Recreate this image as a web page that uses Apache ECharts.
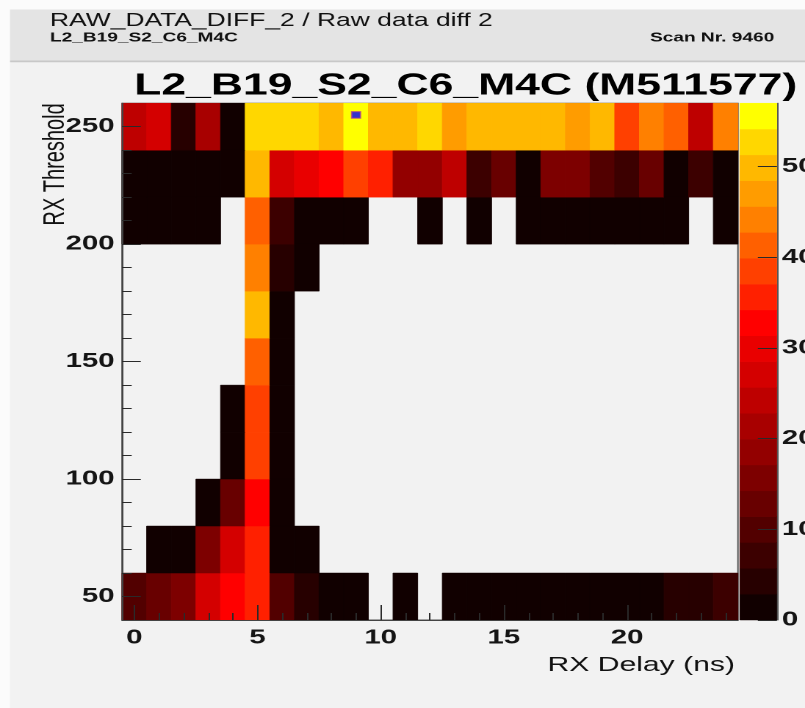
<!DOCTYPE html>
<html>
<head>
<meta charset="utf-8">
<script src="https://cdn.jsdelivr.net/npm/echarts@6.0.0/dist/echarts.min.js"></script>
<style>
  html, body { margin: 0; padding: 0; background: #FBFBFB; overflow: hidden; }
  /* the canvas is laid out narrow and widened horizontally, giving the wide lettering of the scan viewer */
  #chart { width: 548px; height: 708px; transform: scaleX(1.46898); transform-origin: 0 0; }
</style>
</head>
<body>
<div id="chart"></div>
<script>
// RX delay bins (ns), bin centres
const delays = [0, 1, 2, 3, 4, 5, 6, 7, 8, 9, 10, 11, 12, 13, 14, 15, 16, 17, 18, 19, 20, 21, 22, 23, 24];
// RX threshold bins, bin centres
const thresholds = [50, 70, 90, 110, 130, 150, 170, 190, 210, 230, 250];

// raw data difference counts per threshold row (null = empty bin)
const n = null;
const cnt50  = [10, 13, 16, 27, 33, 36, 10, 4, 1, 2, n, 1, n, 2, 1, 1, 2, 1, 1, 1, 2, 1, 4, 4, 7];
const cnt70  = [n, 1, 2, 16, 27, 36, 1, 2, n, n, n, n, n, n, n, n, n, n, n, n, n, n, n, n, n];
const cnt90  = [n, n, n, 1, 13, 33, 2, n, n, n, n, n, n, n, n, n, n, n, n, n, n, n, n, n, n];
const cnt110 = [n, n, n, n, 2, 39, 1, n, n, n, n, n, n, n, n, n, n, n, n, n, n, n, n, n, n];
const cnt130 = [n, n, n, n, 1, 38, 2, n, n, n, n, n, n, n, n, n, n, n, n, n, n, n, n, n, n];
const cnt150 = [n, n, n, n, n, 41, 1, n, n, n, n, n, n, n, n, n, n, n, n, n, n, n, n, n, n];
const cnt170 = [n, n, n, n, n, 50, 2, n, n, n, n, n, n, n, n, n, n, n, n, n, n, n, n, n, n];
const cnt190 = [n, n, n, n, n, 44, 4, 1, n, n, n, n, n, n, n, n, n, n, n, n, n, n, n, n, n];
const cnt210 = [1, 1, 2, 1, n, 41, 7, 2, 1, 1, n, n, 1, n, 1, n, 1, 1, 2, 1, 1, 1, 1, n, 1];
const cnt230 = [1, 2, 1, 1, 2, 50, 27, 30, 33, 38, 36, 18, 19, 24, 7, 13, 2, 16, 15, 10, 7, 13, 2, 7, 1];
const cnt250 = [24, 27, 4, 21, 2, 53, 52, 53, 50, 56, 50, 49, 52, 47, 50, 50, 49, 50, 46, 49, 38, 44, 41, 24, 44];
const rowCounts = [cnt50, cnt70, cnt90, cnt110, cnt130, cnt150, cnt170, cnt190, cnt210, cnt230, cnt250];

// chosen working point
const bestPoint = [9, 255];

// axis ticks
const delayMajor = [0, 5, 10, 15, 20];
const delayMinor = [1, 2, 3, 4, 6, 7, 8, 9, 11, 12, 13, 14, 16, 17, 18, 19, 21, 22, 23, 24];
const thrMajor = [50, 100, 150, 200, 250];
const thrMinor = [60, 70, 80, 90, 110, 120, 130, 140, 160, 170, 180, 190, 210, 220, 230, 240];
const zTicks = [0, 10, 20, 30, 40, 50];

// colour scale: 20 contour levels between 0 and zMax
const zMax = 57;
const nLevels = 20;
const palette = ['#110000', '#270000', '#3C0000', '#520000', '#680000', '#7D0000', '#930000',
                 '#A80000', '#BE0000', '#D40000', '#E90000', '#FF0000', '#FF2000', '#FF4000',
                 '#FF6000', '#FF8000', '#FF9C00', '#FFB800', '#FFD700', '#FFFF00'];

const delayStep = 1;
const thrStep = 20;
const FONT = '"Liberation Sans", Arimo, Arial, sans-serif';

// heatmap cells
const cells = [];
rowCounts.forEach(function (row, i) {
  row.forEach(function (v, j) {
    if (v !== null) cells.push([delays[j], thresholds[i], v]);
  });
});

// colour bar bands: [x, mid, mid, lo, hi]
const levelW = zMax / nLevels;
const bands = [];
const pieces = [];
for (let k = 0; k < nLevels; k++) {
  const lo = k * levelW, hi = (k + 1) * levelW;
  bands.push([0.5, (lo + hi) / 2, (lo + hi) / 2, lo, hi]);
  const p = { gte: lo, color: palette[k] };
  if (k < nLevels - 1) p.lt = hi; else p.lte = hi;
  pieces.push(p);
}

function renderCell(params, api) {
  const x = api.value(0), y = api.value(1);
  const p0 = api.coord([x - delayStep / 2, y + thrStep / 2]);
  const p1 = api.coord([x + delayStep / 2, y - thrStep / 2]);
  const c = api.visual('color');
  return {
    type: 'rect',
    shape: { x: p0[0], y: p0[1], width: p1[0] - p0[0], height: p1[1] - p0[1] },
    style: { fill: c, stroke: c, lineWidth: 0.5 }
  };
}

function renderBand(params, api) {
  const p0 = api.coord([0, api.value(4)]);
  const p1 = api.coord([1, api.value(3)]);
  const c = api.visual('color');
  return {
    type: 'rect',
    shape: { x: p0[0], y: p0[1], width: p1[0] - p0[0], height: p1[1] - p0[1] },
    style: { fill: c, stroke: c, lineWidth: 0.5 }
  };
}

const labelStyle = { fontFamily: FONT, fontSize: 20, fontWeight: 'bold', color: '#151515' };
const tickStyle = { color: '#2a2a2a', width: 1 };

const chart = echarts.init(document.getElementById('chart'), null, { renderer: 'canvas', devicePixelRatio: 2 });

chart.setOption({
  animation: false,
  backgroundColor: '#FBFBFB',
  graphic: [
    { type: 'rect', z: -20, silent: true, shape: { x: 6.8, y: 62, width: 542, height: 646 }, style: { fill: '#F2F2F2' } },
    { type: 'rect', z: -20, silent: true, shape: { x: 6.8, y: 9.5, width: 542, height: 51 }, style: { fill: '#E4E4E4' } },
    { type: 'rect', z: -20, silent: true, shape: { x: 6.8, y: 60.5, width: 542, height: 1.8 }, style: { fill: '#C8C8C8' } },
    { type: 'text', z: 100, silent: true, x: 34, y: 21.2,
      style: { text: 'RAW_DATA_DIFF_2 / Raw data diff 2', font: '18px ' + FONT, fill: '#111', textAlign: 'left', textVerticalAlign: 'middle', verticalAlign: 'middle' } },
    { type: 'text', z: 100, silent: true, x: 34, y: 38,
      style: { text: 'L2_B19_S2_C6_M4C', font: 'bold 13px ' + FONT, fill: '#111', textAlign: 'left', textVerticalAlign: 'middle', verticalAlign: 'middle' } },
    { type: 'text', z: 100, silent: true, x: 442.5, y: 38,
      style: { text: 'Scan Nr. 9460', font: 'bold 13px ' + FONT, fill: '#111', textAlign: 'left', textVerticalAlign: 'middle', verticalAlign: 'middle' } },
    { type: 'text', z: 100, silent: true, x: 317, y: 86,
      style: { text: 'L2_B19_S2_C6_M4C (M511577)', font: 'bold 30.3px ' + FONT, fill: '#000', textAlign: 'center', textVerticalAlign: 'middle', verticalAlign: 'middle' } },
    { type: 'text', z: 100, silent: true, x: 500.3, y: 665.5,
      style: { text: 'RX Delay (ns)', font: '20.5px ' + FONT, fill: '#111', textAlign: 'right', textVerticalAlign: 'middle', verticalAlign: 'middle' } },
    { type: 'text', z: 100, silent: true, x: 38, y: 103.3, rotation: Math.PI / 2,
      style: { text: 'RX Threshold', font: '20px ' + FONT, fill: '#111', textAlign: 'right', textVerticalAlign: 'middle', verticalAlign: 'middle' } }
  ],
  grid: [
    { left: 83.05, top: 103.2, width: 419.3, height: 516.8, containLabel: false, outerBoundsMode: 'none',
      show: true, backgroundColor: 'transparent', borderColor: '#555', borderWidth: 1 },
    { left: 503.7, top: 103.2, width: 25.2, height: 516.8, containLabel: false, outerBoundsMode: 'none' }
  ],
  xAxis: [
    { type: 'value', gridIndex: 0, min: -0.5, max: 24.5, position: 'bottom', z: 10,
      axisLine: { show: true, onZero: false, lineStyle: { color: '#444', width: 1 } },
      axisTick: { show: true, inside: true, length: 15, customValues: delayMajor, lineStyle: tickStyle },
      axisLabel: Object.assign({ show: true, margin: 8, customValues: delayMajor }, labelStyle),
      splitLine: { show: false } },
    { type: 'value', gridIndex: 0, min: -0.5, max: 24.5, position: 'bottom', offset: 0, z: 10,
      axisLine: { show: false, onZero: false },
      axisTick: { show: true, inside: true, length: 7, customValues: delayMinor, lineStyle: tickStyle },
      axisLabel: { show: false },
      splitLine: { show: false } },
    { type: 'value', gridIndex: 1, min: 0, max: 1, show: false, axisLine: { onZero: false } }
  ],
  yAxis: [
    { type: 'value', gridIndex: 0, min: 40, max: 260, position: 'left', z: 10,
      axisLine: { show: true, onZero: false, lineStyle: { color: '#444', width: 1 } },
      axisTick: { show: true, inside: true, length: 12.8, customValues: thrMajor, lineStyle: tickStyle },
      axisLabel: Object.assign({ show: true, margin: 5, padding: [6, 0, 0, 0], customValues: thrMajor }, labelStyle),
      splitLine: { show: false } },
    { type: 'value', gridIndex: 0, min: 40, max: 260, position: 'left', offset: 0, z: 10,
      axisLine: { show: false, onZero: false },
      axisTick: { show: true, inside: true, length: 6.6, customValues: thrMinor, lineStyle: tickStyle },
      axisLabel: { show: false },
      splitLine: { show: false } },
    { type: 'value', gridIndex: 1, min: 0, max: zMax, position: 'right', z: 10,
      axisLine: { show: true, onZero: false, lineStyle: { color: '#555', width: 1 } },
      axisTick: { show: true, inside: true, length: 13, customValues: zTicks, lineStyle: tickStyle },
      axisLabel: Object.assign({ show: true, margin: 3.4, padding: [4, 0, 0, 0], customValues: zTicks }, labelStyle),
      splitLine: { show: false } }
  ],
  visualMap: {
    type: 'piecewise',
    show: false,
    dimension: 2,
    seriesIndex: [0, 1],
    pieces: pieces
  },
  series: [
    { type: 'custom', name: 'counts', coordinateSystem: 'cartesian2d', xAxisIndex: 0, yAxisIndex: 0,
      renderItem: renderCell, data: cells, z: 2 },
    { type: 'custom', name: 'scale', coordinateSystem: 'cartesian2d', xAxisIndex: 2, yAxisIndex: 2,
      renderItem: renderBand, data: bands, z: 2 },
    { type: 'scatter', name: 'working point', xAxisIndex: 0, yAxisIndex: 0, z: 5,
      symbol: 'rect', symbolSize: [6, 6.5],
      itemStyle: { color: '#0000FF', borderColor: '#B04090', borderWidth: 1 },
      data: [bestPoint] }
  ]
});
</script>
</body>
</html>
